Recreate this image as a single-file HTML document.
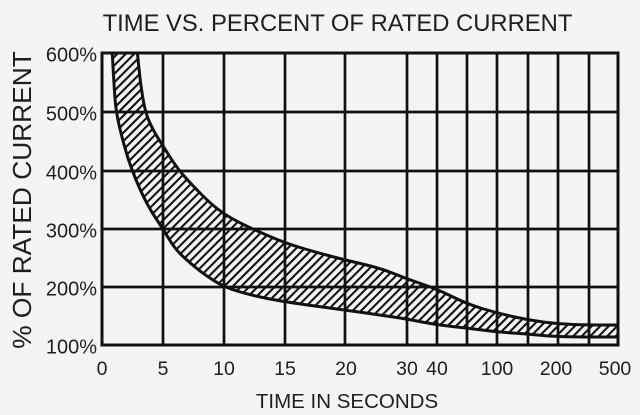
<!DOCTYPE html>
<html><head><meta charset="utf-8"><style>
html,body{margin:0;padding:0;background:#f4f4f4;}
svg{display:block;}
text{font-family:"Liberation Sans",Arial,sans-serif;fill:#1e1e1e;}
</style></head><body>
<svg width="640" height="415" viewBox="0 0 640 415" xmlns="http://www.w3.org/2000/svg">
<defs>
<pattern id="h" patternUnits="userSpaceOnUse" width="6" height="6" patternTransform="rotate(45)">
<line x1="1" y1="-1" x2="1" y2="7" stroke="#111" stroke-width="2.2"/>
</pattern>
<clipPath id="c"><rect x="102" y="53" width="516" height="292"/></clipPath>
</defs>
<rect width="640" height="415" fill="#f4f4f4"/>
<text x="337.5" y="31" font-size="23.8" text-anchor="middle">TIME VS. PERCENT OF RATED CURRENT</text>

<g clip-path="url(#c)">
<path d="M137,48 L138.5,64 Q140,80 142.5,96 Q145,112 149,121 Q153,130 158,138 Q163,146 170,157 Q177,168 184.5,176.5 Q192,185 201,194 Q210,203 217,208.5 Q224,214 232,218.5 Q240,223 247.5,226.5 Q255,230 270,236.5 Q285,243 300,247.5 Q315,252 330,256 Q345,260 362.5,264 Q380,268 393.5,273.5 Q407,279 422,284 Q437,289 452,296.5 Q467,304 482,308.5 Q497,313 512.5,316.5 Q528,320 543,322 Q558,324 573.5,324.5 Q589,325 607,325 L625,325 L625,337 L591.5,337 Q558,337 543,335.5 Q528,334 512.5,333 Q497,332 482,330 Q467,328 452,326.5 Q437,325 422,322 Q407,319 393.5,317 Q380,315 362.5,312.5 Q345,310 315,306 Q285,302 267.5,298.5 Q250,295 237,291 Q224,287 214.5,281 Q205,275 197.5,269 Q190,263 182.5,256 Q175,249 169,239 Q163,229 155,217 Q147,205 139.5,188 Q132,171 127.5,156.5 Q123,142 119.5,127 Q116,112 115,98.5 Q114,85 113,66.5 L112,48 Z" fill="url(#h)" stroke="none"/>
</g>

<g stroke="#111" stroke-width="2.7" fill="none">
<line x1="102" y1="112" x2="618" y2="112"/>
<line x1="102" y1="171" x2="618" y2="171"/>
<line x1="102" y1="229" x2="618" y2="229"/>
<line x1="102" y1="287" x2="618" y2="287"/>
<line x1="163" y1="53" x2="163" y2="345"/>
<line x1="224" y1="53" x2="224" y2="345"/>
<line x1="285" y1="53" x2="285" y2="345"/>
<line x1="345" y1="53" x2="345" y2="345"/>
<line x1="407" y1="53" x2="407" y2="345"/>
<line x1="437" y1="53" x2="437" y2="345"/>
<line x1="467" y1="53" x2="467" y2="345"/>
<line x1="497" y1="53" x2="497" y2="345"/>
<line x1="528" y1="53" x2="528" y2="345"/>
<line x1="558" y1="53" x2="558" y2="345"/>
<line x1="589" y1="53" x2="589" y2="345"/>
<rect x="102" y="53" width="516" height="292" stroke-width="3"/>
</g>

<g clip-path="url(#c)" fill="none" stroke="#111" stroke-width="3" stroke-linejoin="round">
<path d="M137,48 L138.5,64 Q140,80 142.5,96 Q145,112 149,121 Q153,130 158,138 Q163,146 170,157 Q177,168 184.5,176.5 Q192,185 201,194 Q210,203 217,208.5 Q224,214 232,218.5 Q240,223 247.5,226.5 Q255,230 270,236.5 Q285,243 300,247.5 Q315,252 330,256 Q345,260 362.5,264 Q380,268 393.5,273.5 Q407,279 422,284 Q437,289 452,296.5 Q467,304 482,308.5 Q497,313 512.5,316.5 Q528,320 543,322 Q558,324 573.5,324.5 Q589,325 607,325 L625,325"/>
<path d="M112,48 L113,66.5 Q114,85 115,98.5 Q116,112 119.5,127 Q123,142 127.5,156.5 Q132,171 139.5,188 Q147,205 155,217 Q163,229 169,239 Q175,249 182.5,256 Q190,263 197.5,269 Q205,275 214.5,281 Q224,287 237,291 Q250,295 267.5,298.5 Q285,302 315,306 Q345,310 362.5,312.5 Q380,315 393.5,317 Q407,319 422,322 Q437,325 452,326.5 Q467,328 482,330 Q497,332 512.5,333 Q528,334 543,335.5 Q558,337 591.5,337 L625,337"/>
</g>

<g font-size="20" text-anchor="end">
<text x="97" y="61.5">600%</text>
<text x="97" y="120.5">500%</text>
<text x="97" y="179.5">400%</text>
<text x="97" y="237.5">300%</text>
<text x="97" y="295.5">200%</text>
<text x="97" y="353.5">100%</text>
</g>

<g font-size="19.5" text-anchor="middle">
<text x="102" y="375">0</text>
<text x="163" y="375">5</text>
<text x="224" y="375">10</text>
<text x="285" y="375">15</text>
<text x="346" y="375">20</text>
<text x="407" y="375">30</text>
<text x="437" y="375">40</text>
<text x="497" y="375">100</text>
<text x="556" y="375">200</text>
<text x="615" y="375">500</text>
</g>

<text x="347" y="408" font-size="20.5" text-anchor="middle">TIME IN SECONDS</text>
<text transform="translate(31,200) rotate(-90)" font-size="26.3" text-anchor="middle">% OF RATED CURRENT</text>
</svg>
</body></html>
